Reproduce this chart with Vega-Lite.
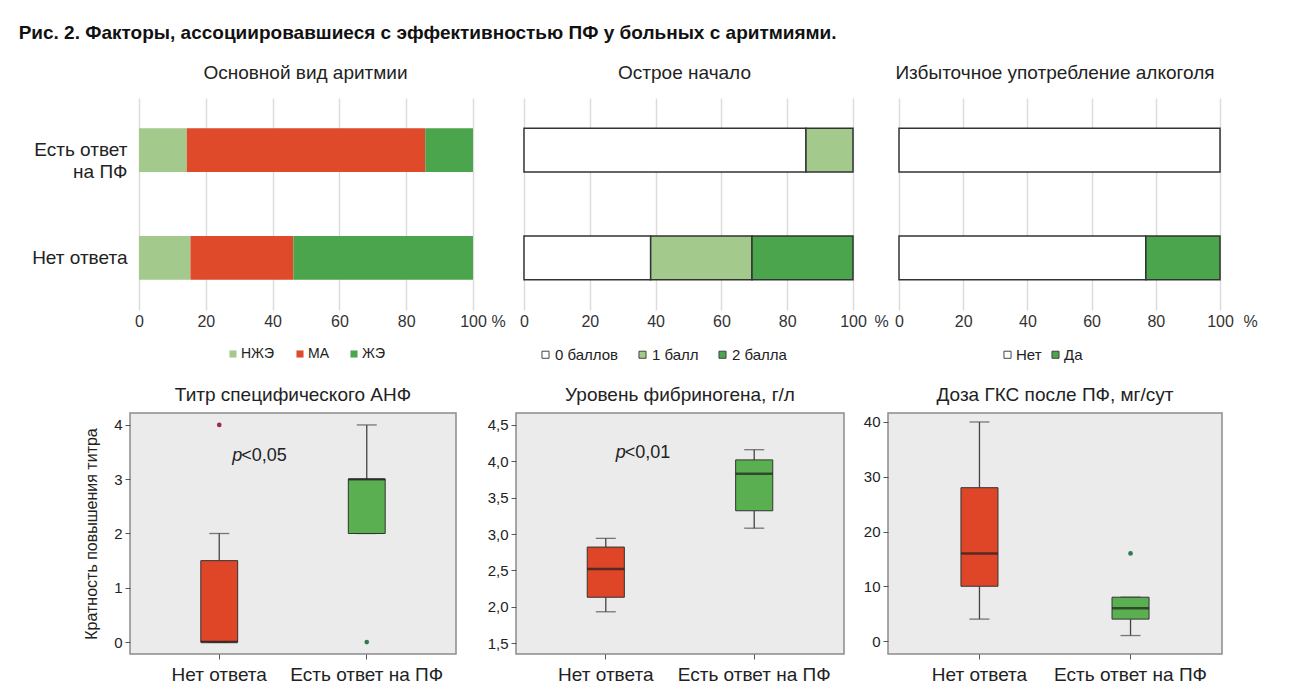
{
  "$schema": "https://vega.github.io/schema/vega-lite/v6.json",
  "background": "white",
  "padding": {"left": 18, "top": 24, "right": 10, "bottom": 5},
  "config": {
    "font": "Liberation Sans",
    "view": {"stroke": null},
    "axis": {"labelColor": "#222", "titleColor": "#222", "labelFont": "Liberation Sans", "titleFont": "Liberation Sans"},
    "title": {"color": "#222", "font": "Liberation Sans"},
    "legend": {"labelColor": "#222", "labelFont": "Liberation Sans"}
  },
  "title": {
    "text": "Рис. 2. Факторы, ассоциировавшиеся с эффективностью ПФ у больных с аритмиями.",
    "anchor": "start", "fontSize": 19, "fontWeight": "bold", "color": "#111", "offset": 21, "dx": -13
  },
  "datasets": {
    "arr": [
      {"group": "Есть ответ на ПФ", "type": "НЖЭ", "pct": 14.3, "i": 1},
      {"group": "Есть ответ на ПФ", "type": "МА", "pct": 71.4, "i": 2},
      {"group": "Есть ответ на ПФ", "type": "ЖЭ", "pct": 14.3, "i": 3},
      {"group": "Нет ответа", "type": "НЖЭ", "pct": 15.4, "i": 1},
      {"group": "Нет ответа", "type": "МА", "pct": 30.8, "i": 2},
      {"group": "Нет ответа", "type": "ЖЭ", "pct": 53.8, "i": 3}
    ],
    "acute": [
      {"group": "Есть ответ на ПФ", "score": "0 баллов", "pct": 85.7, "i": 1},
      {"group": "Есть ответ на ПФ", "score": "1 балл", "pct": 14.3, "i": 2},
      {"group": "Нет ответа", "score": "0 баллов", "pct": 38.5, "i": 1},
      {"group": "Нет ответа", "score": "1 балл", "pct": 30.8, "i": 2},
      {"group": "Нет ответа", "score": "2 балла", "pct": 30.7, "i": 3}
    ],
    "alc": [
      {"group": "Есть ответ на ПФ", "alc": "Нет", "pct": 100, "i": 1},
      {"group": "Нет ответа", "alc": "Нет", "pct": 76.9, "i": 1},
      {"group": "Нет ответа", "alc": "Да", "pct": 23.1, "i": 2}
    ],
    "anf": [
      {"group": "Нет ответа", "lower": 0, "q1": 0, "median": 0, "q3": 1.5, "upper": 2},
      {"group": "Есть ответ на ПФ", "lower": 2, "q1": 2, "median": 3, "q3": 3, "upper": 4}
    ],
    "anf_out": [
      {"group": "Нет ответа", "value": 4},
      {"group": "Есть ответ на ПФ", "value": 0}
    ],
    "fib": [
      {"group": "Нет ответа", "lower": 1.93, "q1": 2.13, "median": 2.52, "q3": 2.82, "upper": 2.94},
      {"group": "Есть ответ на ПФ", "lower": 3.08, "q1": 3.32, "median": 3.83, "q3": 4.02, "upper": 4.16}
    ],
    "gks": [
      {"group": "Нет ответа", "lower": 4, "q1": 10, "median": 16, "q3": 28, "upper": 40},
      {"group": "Есть ответ на ПФ", "lower": 1, "q1": 4, "median": 6, "q3": 8, "upper": 8}
    ],
    "gks_out": [
      {"group": "Есть ответ на ПФ", "value": 16}
    ],
    "p_anf": [{"group": "Нет ответа", "y": 3.42, "p": "p", "rest": "<0,05"}],
    "p_fib": [{"group": "Нет ответа", "y": 4.115, "p": "p", "rest": "<0,01"}]
  },
  "columns": 3,
  "bounds": "flush",
  "align": "each",
  "spacing": {"row": 103, "column": 35},
  "resolve": {
    "scale": {"x": "independent", "y": "independent", "color": "independent", "fill": "independent"},
    "axis": {"x": "independent", "y": "independent"},
    "legend": {"color": "independent"}
  },
  "concat": [
    {
      "width": 351, "height": 212,
      "data": {"name": "arr"},
      "title": {"text": "Основной вид аритмии", "frame": "group", "fontSize": 19, "fontWeight": "normal", "offset": 15},
      "mark": {"type": "bar", "strokeWidth": 0},
      "encoding": {
        "y": {"field": "group", "type": "nominal",
          "scale": {"domain": ["Есть ответ на ПФ", "Нет ответа"], "paddingInner": 0.593, "paddingOuter": 0.28},
          "axis": {"title": null, "ticks": false, "tickSize": 0, "domain": false, "labelPadding": 3, "labelFontSize": 19, "labelLineHeight": 22,
            "labelExpr": "datum.label == 'Есть ответ на ПФ' ? ['Есть ответ', 'на ПФ'] : datum.label"}},
        "x": {"field": "pct", "type": "quantitative", "stack": "zero",
          "scale": {"domain": [-2.695, 102.4], "nice": false, "zero": false},
          "axis": {"title": "%", "values": [0, 20, 40, 60, 80, 100], "grid": true, "gridColor": "#dcdcdc", "gridWidth": 1.5,
            "domain": false, "ticks": false, "tickSize": 0, "labelPadding": 3, "labelFontSize": 16, "labelColor": "#333", "labelFlush": false,
            "titleX": 368, "titleY": 3, "titleAlign": "center", "titleBaseline": "top", "titleFontSize": 16, "titleFontWeight": "normal", "titleColor": "#333"}},
        "color": {"field": "type", "type": "nominal",
          "scale": {"domain": ["НЖЭ", "МА", "ЖЭ"], "range": ["#a3c98c", "#de4a2a", "#4ba54d"]},
          "legend": {"orient": "none", "legendX": 96, "legendY": 249, "direction": "horizontal", "title": null, "symbolType": "square",
            "symbolSize": 50, "symbolStrokeWidth": 0, "labelFontSize": 14, "labelOffset": 1, "columnPadding": 18, "padding": 0}},
        "order": {"field": "i", "type": "quantitative"}
      }
    },
    {
      "width": 337, "height": 212,
      "data": {"name": "acute"},
      "title": {"text": "Острое начало", "frame": "group", "fontSize": 19, "fontWeight": "normal", "offset": 15},
      "mark": {"type": "bar", "stroke": "#333", "strokeWidth": 1.5},
      "encoding": {
        "y": {"field": "group", "type": "nominal",
          "scale": {"domain": ["Есть ответ на ПФ", "Нет ответа"], "paddingInner": 0.593, "paddingOuter": 0.28},
          "axis": null},
        "x": {"field": "pct", "type": "quantitative", "stack": "zero",
          "scale": {"domain": [-2.43, 100.0], "nice": false, "zero": false},
          "axis": {"title": "%", "values": [0, 20, 40, 60, 80, 100], "grid": true, "gridColor": "#dcdcdc", "gridWidth": 1.5,
            "domain": false, "ticks": false, "tickSize": 0, "labelPadding": 3, "labelFontSize": 16, "labelColor": "#333", "labelFlush": false,
            "titleX": 365, "titleY": 3, "titleAlign": "center", "titleBaseline": "top", "titleFontSize": 16, "titleFontWeight": "normal", "titleColor": "#333"}},
        "color": {"field": "score", "type": "nominal",
          "scale": {"domain": ["0 баллов", "1 балл", "2 балла"], "range": ["#ffffff", "#a3c98c", "#4ba54d"]},
          "legend": {"orient": "none", "legendX": 22, "legendY": 249, "direction": "horizontal", "title": null, "symbolType": "square",
            "symbolSize": 50, "symbolStrokeColor": "#444", "symbolStrokeWidth": 1, "labelFontSize": 15, "labelOffset": 2, "columnPadding": 16, "padding": 0}},
        "order": {"field": "i", "type": "quantitative"}
      }
    },
    {
      "width": 334, "height": 212,
      "data": {"name": "alc"},
      "title": {"text": "Избыточное употребление алкоголя", "frame": "group", "fontSize": 19, "fontWeight": "normal", "offset": 15},
      "mark": {"type": "bar", "stroke": "#333", "strokeWidth": 1.5},
      "encoding": {
        "y": {"field": "group", "type": "nominal",
          "scale": {"domain": ["Есть ответ на ПФ", "Нет ответа"], "paddingInner": 0.593, "paddingOuter": 0.28},
          "axis": null},
        "x": {"field": "pct", "type": "quantitative", "stack": "zero",
          "scale": {"domain": [-3.43, 100.62], "nice": false, "zero": false},
          "axis": {"title": "%", "values": [0, 20, 40, 60, 80, 100], "grid": true, "gridColor": "#dcdcdc", "gridWidth": 1.5,
            "domain": false, "ticks": false, "tickSize": 0, "labelPadding": 3, "labelFontSize": 16, "labelColor": "#333", "labelFlush": false,
            "titleX": 362, "titleY": 3, "titleAlign": "center", "titleBaseline": "top", "titleFontSize": 16, "titleFontWeight": "normal", "titleColor": "#333"}},
        "color": {"field": "alc", "type": "nominal",
          "scale": {"domain": ["Нет", "Да"], "range": ["#ffffff", "#4ba54d"]},
          "legend": {"orient": "none", "legendX": 112, "legendY": 249, "direction": "horizontal", "title": null, "symbolType": "square",
            "symbolSize": 50, "symbolStrokeColor": "#444", "symbolStrokeWidth": 1, "labelFontSize": 15, "labelOffset": 1, "columnPadding": 6, "padding": 0}},
        "order": {"field": "i", "type": "quantitative"}
      }
    },
    {
      "width": 326, "height": 241,
      "title": {"text": "Титр специфического АНФ", "frame": "group", "fontSize": 19, "fontWeight": "normal", "offset": 8},
      "view": {"fill": "#ebebeb", "stroke": "#8c8c8c", "strokeWidth": 1.5},
      "encoding": {
        "x": {"field": "group", "type": "nominal",
          "scale": {"domain": ["Нет ответа", "Есть ответ на ПФ"], "paddingInner": 0.75, "paddingOuter": 0.48},
          "axis": {"title": null, "labelAngle": 0, "labelFontSize": 19, "domain": false, "tickSize": 5, "tickColor": "#555", "labelPadding": 6}}
      },
      "layer": [
        {"data": {"name": "anf"}, "mark": {"type": "rule", "color": "#444", "strokeWidth": 1.3},
          "encoding": {
            "y": {"field": "q3", "type": "quantitative", "title": "Кратность повышения титра",
              "scale": {"domain": [-0.22, 4.22], "nice": false, "zero": false},
              "axis": {"values": [0, 1, 2, 3, 4], "format": "d", "grid": false, "domain": false, "tickSize": 5, "tickColor": "#555", "labelFontSize": 15, "labelPadding": 3,
                "titleFontSize": 16, "titleFontWeight": "normal", "titlePadding": 14}},
            "y2": {"field": "upper"}}},
        {"data": {"name": "anf"}, "mark": {"type": "rule", "color": "#444", "strokeWidth": 1.3},
          "encoding": {
            "y": {"field": "lower", "type": "quantitative", "title": "Кратность повышения титра", "scale": {"domain": [-0.22, 4.22], "nice": false, "zero": false}},
            "y2": {"field": "q1"}}},
        {"data": {"name": "anf"}, "mark": {"type": "tick", "orient": "horizontal", "size": 20, "thickness": 1.3, "color": "#444"},
          "encoding": {"y": {"field": "upper", "type": "quantitative", "title": "Кратность повышения титра", "scale": {"domain": [-0.22, 4.22], "nice": false, "zero": false}}}},
        {"data": {"name": "anf"}, "mark": {"type": "tick", "orient": "horizontal", "size": 20, "thickness": 1.3, "color": "#444"},
          "encoding": {"y": {"field": "lower", "type": "quantitative", "title": "Кратность повышения титра", "scale": {"domain": [-0.22, 4.22], "nice": false, "zero": false}}}},
        {"data": {"name": "anf"}, "mark": {"type": "bar", "stroke": "#333", "strokeWidth": 1},
          "encoding": {
            "y": {"field": "q1", "type": "quantitative", "title": "Кратность повышения титра", "scale": {"domain": [-0.22, 4.22], "nice": false, "zero": false}},
            "y2": {"field": "q3"},
            "color": {"field": "group", "type": "nominal", "scale": {"domain": ["Нет ответа", "Есть ответ на ПФ"], "range": ["#df4527", "#5ab050"]}, "legend": null}}},
        {"data": {"name": "anf"}, "mark": {"type": "tick", "orient": "horizontal", "size": 37, "thickness": 2.5, "color": "#1f1f1f"},
          "encoding": {"y": {"field": "median", "type": "quantitative", "title": "Кратность повышения титра", "scale": {"domain": [-0.22, 4.22], "nice": false, "zero": false}}}},
        {"data": {"name": "anf_out"}, "mark": {"type": "point", "filled": true, "size": 22, "opacity": 1},
          "encoding": {
            "y": {"field": "value", "type": "quantitative", "title": "Кратность повышения титра", "scale": {"domain": [-0.22, 4.22], "nice": false, "zero": false}},
            "fill": {"field": "group", "type": "nominal", "scale": {"domain": ["Нет ответа", "Есть ответ на ПФ"], "range": ["#9b2d45", "#2e7b4f"]}, "legend": null}}},
        {"data": {"name": "p_anf"}, "mark": {"type": "text", "fontSize": 18, "fontStyle": "italic", "align": "left", "baseline": "middle", "dx": 13, "color": "#222"},
          "encoding": {"y": {"field": "y", "type": "quantitative", "title": "Кратность повышения титра", "scale": {"domain": [-0.22, 4.22], "nice": false, "zero": false}},
            "text": {"field": "p"}}},
        {"data": {"name": "p_anf"}, "mark": {"type": "text", "fontSize": 18, "align": "left", "baseline": "middle", "dx": 22, "color": "#222"},
          "encoding": {"y": {"field": "y", "type": "quantitative", "title": "Кратность повышения титра", "scale": {"domain": [-0.22, 4.22], "nice": false, "zero": false}},
            "text": {"field": "rest"}}}
      ]
    },
    {
      "width": 328, "height": 241,
      "title": {"text": "Уровень фибриногена, г/л", "frame": "group", "fontSize": 19, "fontWeight": "normal", "offset": 8},
      "view": {"fill": "#ebebeb", "stroke": "#8c8c8c", "strokeWidth": 1.5},
      "encoding": {
        "x": {"field": "group", "type": "nominal",
          "scale": {"domain": ["Нет ответа", "Есть ответ на ПФ"], "paddingInner": 0.75, "paddingOuter": 0.48},
          "axis": {"title": null, "labelAngle": 0, "labelFontSize": 19, "domain": false, "tickSize": 5, "tickColor": "#555", "labelPadding": 6}}
      },
      "layer": [
        {"data": {"name": "fib"}, "mark": {"type": "rule", "color": "#444", "strokeWidth": 1.3},
          "encoding": {
            "y": {"field": "q3", "type": "quantitative", "title": null,
              "scale": {"domain": [1.349, 4.665], "nice": false, "zero": false},
              "axis": {"values": [1.5, 2, 2.5, 3, 3.5, 4, 4.5], "grid": false, "domain": false, "tickSize": 5, "tickColor": "#555", "labelFontSize": 15, "labelPadding": 3,
                "labelExpr": "replace(format(datum.value, '.1f'), '.', ',')"}},
            "y2": {"field": "upper"}}},
        {"data": {"name": "fib"}, "mark": {"type": "rule", "color": "#444", "strokeWidth": 1.3},
          "encoding": {
            "y": {"field": "lower", "type": "quantitative", "title": null, "scale": {"domain": [1.349, 4.665], "nice": false, "zero": false}},
            "y2": {"field": "q1"}}},
        {"data": {"name": "fib"}, "mark": {"type": "tick", "orient": "horizontal", "size": 20, "thickness": 1.3, "color": "#444"},
          "encoding": {"y": {"field": "upper", "type": "quantitative", "title": null, "scale": {"domain": [1.349, 4.665], "nice": false, "zero": false}}}},
        {"data": {"name": "fib"}, "mark": {"type": "tick", "orient": "horizontal", "size": 20, "thickness": 1.3, "color": "#444"},
          "encoding": {"y": {"field": "lower", "type": "quantitative", "title": null, "scale": {"domain": [1.349, 4.665], "nice": false, "zero": false}}}},
        {"data": {"name": "fib"}, "mark": {"type": "bar", "stroke": "#333", "strokeWidth": 1},
          "encoding": {
            "y": {"field": "q1", "type": "quantitative", "title": null, "scale": {"domain": [1.349, 4.665], "nice": false, "zero": false}},
            "y2": {"field": "q3"},
            "color": {"field": "group", "type": "nominal", "scale": {"domain": ["Нет ответа", "Есть ответ на ПФ"], "range": ["#df4527", "#5ab050"]}, "legend": null}}},
        {"data": {"name": "fib"}, "mark": {"type": "tick", "orient": "horizontal", "size": 37, "thickness": 2.5, "color": "#1f1f1f"},
          "encoding": {"y": {"field": "median", "type": "quantitative", "title": null, "scale": {"domain": [1.349, 4.665], "nice": false, "zero": false}}}},
        {"data": {"name": "p_fib"}, "mark": {"type": "text", "fontSize": 18, "fontStyle": "italic", "align": "left", "baseline": "middle", "dx": 10, "color": "#222"},
          "encoding": {"y": {"field": "y", "type": "quantitative", "title": null, "scale": {"domain": [1.349, 4.665], "nice": false, "zero": false}},
            "text": {"field": "p"}}},
        {"data": {"name": "p_fib"}, "mark": {"type": "text", "fontSize": 18, "align": "left", "baseline": "middle", "dx": 19, "color": "#222"},
          "encoding": {"y": {"field": "y", "type": "quantitative", "title": null, "scale": {"domain": [1.349, 4.665], "nice": false, "zero": false}},
            "text": {"field": "rest"}}}
      ]
    },
    {
      "width": 334, "height": 241,
      "title": {"text": "Доза ГКС после ПФ, мг/сут", "frame": "group", "fontSize": 19, "fontWeight": "normal", "offset": 8},
      "view": {"fill": "#ebebeb", "stroke": "#8c8c8c", "strokeWidth": 1.5},
      "encoding": {
        "x": {"field": "group", "type": "nominal",
          "scale": {"domain": ["Нет ответа", "Есть ответ на ПФ"], "paddingInner": 0.755, "paddingOuter": 0.483},
          "axis": {"title": null, "labelAngle": 0, "labelFontSize": 19, "domain": false, "tickSize": 5, "tickColor": "#555", "labelPadding": 6}}
      },
      "layer": [
        {"data": {"name": "gks"}, "mark": {"type": "rule", "color": "#444", "strokeWidth": 1.3},
          "encoding": {
            "y": {"field": "q3", "type": "quantitative", "title": null,
              "scale": {"domain": [-2.37, 41.64], "nice": false, "zero": false},
              "axis": {"values": [0, 10, 20, 30, 40], "format": "d", "grid": false, "domain": false, "tickSize": 5, "tickColor": "#555", "labelFontSize": 15, "labelPadding": 3}},
            "y2": {"field": "upper"}}},
        {"data": {"name": "gks"}, "mark": {"type": "rule", "color": "#444", "strokeWidth": 1.3},
          "encoding": {
            "y": {"field": "lower", "type": "quantitative", "title": null, "scale": {"domain": [-2.37, 41.64], "nice": false, "zero": false}},
            "y2": {"field": "q1"}}},
        {"data": {"name": "gks"}, "mark": {"type": "tick", "orient": "horizontal", "size": 20, "thickness": 1.3, "color": "#444"},
          "encoding": {"y": {"field": "upper", "type": "quantitative", "title": null, "scale": {"domain": [-2.37, 41.64], "nice": false, "zero": false}}}},
        {"data": {"name": "gks"}, "mark": {"type": "tick", "orient": "horizontal", "size": 20, "thickness": 1.3, "color": "#444"},
          "encoding": {"y": {"field": "lower", "type": "quantitative", "title": null, "scale": {"domain": [-2.37, 41.64], "nice": false, "zero": false}}}},
        {"data": {"name": "gks"}, "mark": {"type": "bar", "stroke": "#333", "strokeWidth": 1},
          "encoding": {
            "y": {"field": "q1", "type": "quantitative", "title": null, "scale": {"domain": [-2.37, 41.64], "nice": false, "zero": false}},
            "y2": {"field": "q3"},
            "color": {"field": "group", "type": "nominal", "scale": {"domain": ["Нет ответа", "Есть ответ на ПФ"], "range": ["#df4527", "#5ab050"]}, "legend": null}}},
        {"data": {"name": "gks"}, "mark": {"type": "tick", "orient": "horizontal", "size": 37, "thickness": 2.5, "color": "#1f1f1f"},
          "encoding": {"y": {"field": "median", "type": "quantitative", "title": null, "scale": {"domain": [-2.37, 41.64], "nice": false, "zero": false}}}},
        {"data": {"name": "gks_out"}, "mark": {"type": "point", "filled": true, "size": 22, "opacity": 1},
          "encoding": {
            "y": {"field": "value", "type": "quantitative", "title": null, "scale": {"domain": [-2.37, 41.64], "nice": false, "zero": false}},
            "fill": {"field": "group", "type": "nominal", "scale": {"domain": ["Нет ответа", "Есть ответ на ПФ"], "range": ["#9b2d45", "#2e7b4f"]}, "legend": null}}}
      ]
    }
  ]
}
